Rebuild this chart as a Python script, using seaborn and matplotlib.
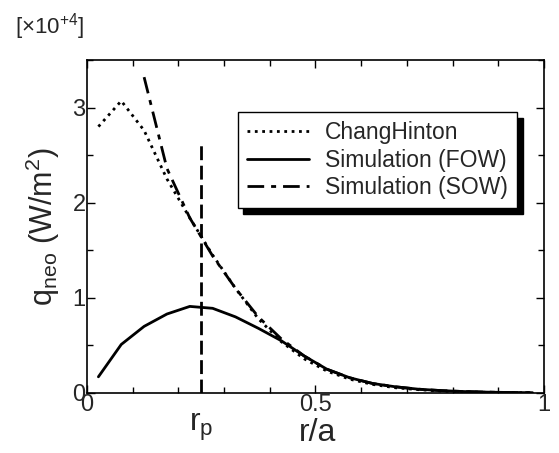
import seaborn as sns
import matplotlib.pyplot as plt
import matplotlib.ticker as mticker

# radial grid of the profiles (r/a)
r_ch = [0.025, 0.075, 0.125, 0.175, 0.225, 0.275, 0.325, 0.375, 0.425, 0.475,
        0.525, 0.575, 0.625, 0.675, 0.725, 0.775, 0.825, 0.875, 0.925, 0.975]
q_ch = [2.80, 3.07, 2.76, 2.25, 1.84, 1.45, 1.10, 0.78, 0.54, 0.36,
        0.23, 0.145, 0.09, 0.055, 0.035, 0.02, 0.012, 0.007, 0.004, 0.002]

r_fow = [0.025, 0.075, 0.125, 0.175, 0.225, 0.275, 0.325, 0.375, 0.425, 0.475,
         0.525, 0.575, 0.625, 0.675, 0.725, 0.775, 0.825, 0.875, 0.925, 0.975]
q_fow = [0.17, 0.51, 0.70, 0.83, 0.91, 0.89, 0.80, 0.68, 0.55, 0.39,
         0.25, 0.16, 0.10, 0.065, 0.04, 0.025, 0.015, 0.009, 0.005, 0.003]

r_sow = [0.125, 0.175, 0.225, 0.275, 0.325, 0.375, 0.425, 0.475,
         0.525, 0.575, 0.625, 0.675, 0.725, 0.775, 0.825, 0.875, 0.925, 0.975]
q_sow = [3.32, 2.36, 1.84, 1.44, 1.10, 0.80, 0.57, 0.39,
         0.25, 0.16, 0.10, 0.065, 0.04, 0.025, 0.015, 0.009, 0.005, 0.003]

r_p = 0.25
rp_line_top = 2.62

sns.set_style('ticks')
plt.rcParams['font.family'] = ['Liberation Sans', 'DejaVu Sans']
plt.rcParams['mathtext.fontset'] = 'custom'
plt.rcParams['mathtext.rm'] = 'Liberation Sans'
plt.rcParams['mathtext.it'] = 'Liberation Sans:italic'

fig = plt.figure(figsize=(5.59, 4.53), dpi=100)
ax = fig.add_axes([0.1556, 0.1325, 0.8174, 0.735])

sns.lineplot(x=r_ch, y=q_ch, ax=ax, color='k', lw=2, linestyle=':', label='ChangHinton')
sns.lineplot(x=r_fow, y=q_fow, ax=ax, color='k', lw=2, label='Simulation (FOW)')
sns.lineplot(x=r_sow, y=q_sow, ax=ax, color='k', lw=2, label='Simulation (SOW)')
ax.lines[-1].set_dashes((6, 2.5, 1.8, 2.5))
ax.vlines(r_p, 0, rp_line_top, colors='k', lw=2, linestyles=(0, (5, 2)))

ax.set_xlim(0, 1)
ax.set_ylim(0, 3.5)
ax.xaxis.set_major_locator(mticker.FixedLocator([0, 0.5, 1]))
ax.xaxis.set_major_formatter(mticker.FixedFormatter(['0', '0.5', '1']))
ax.xaxis.set_minor_locator(mticker.MultipleLocator(0.1))
ax.yaxis.set_major_locator(mticker.FixedLocator([0, 1, 2, 3]))
ax.yaxis.set_major_formatter(mticker.FixedFormatter(['0', '1', '2', '3']))
ax.yaxis.set_minor_locator(mticker.MultipleLocator(0.5))
ax.tick_params(which='both', direction='in', top=True, right=True, width=1, color='k')
ax.tick_params(which='major', length=6, labelsize=17, pad=1)
ax.tick_params(which='minor', length=4)
for s in ax.spines.values():
    s.set_linewidth(1.2)
    s.set_color('k')

ax.set_xlabel('r/a', fontsize=23)
ax.xaxis.set_label_coords(0.505, -0.075)
ax.set_ylabel(r'q$_{\mathrm{neo}}$ (W/m$^2$)', fontsize=22)
ax.yaxis.set_label_coords(-0.055, 0.5)
ax.text(r_p, -0.058, r'r$_{\mathrm{p}}$', transform=ax.get_xaxis_transform(),
        ha='center', va='top', fontsize=23)
fig.text(0.027, 0.925, r'[×10$^{+4}$]', fontsize=16, ha='left', va='baseline')

leg = ax.legend(loc='upper right', bbox_to_anchor=(0.941, 0.844), fontsize=16.5,
                frameon=True, fancybox=False, handlelength=2.7, handletextpad=0.7,
                borderpad=0.4, labelspacing=0.2, borderaxespad=0,
                shadow={'ox': 4, 'oy': -4, 'facecolor': 'k', 'edgecolor': 'k', 'alpha': 1})
leg.get_frame().set_edgecolor('k')
leg.get_frame().set_linewidth(1.0)
leg.get_frame().set_alpha(1)

fig.savefig('out.png', dpi=100)
